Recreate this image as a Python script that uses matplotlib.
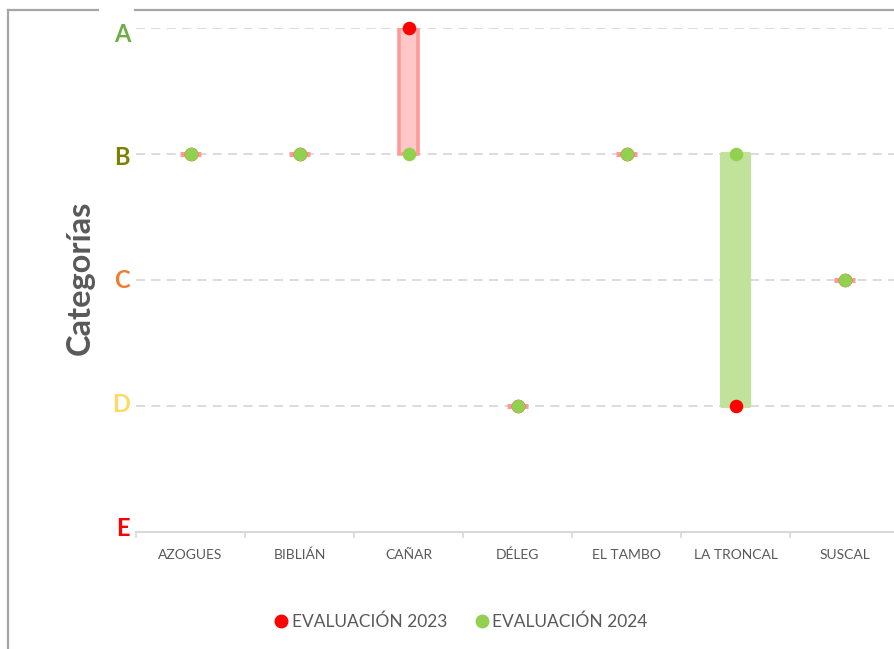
import matplotlib
matplotlib.use("Agg")
import matplotlib.pyplot as plt
from matplotlib.lines import Line2D
import matplotlib.transforms as mtransforms
import numpy as np

plt.rcParams['font.family'] = ['Lato', 'DejaVu Sans']

cantones = ["AZOGUES", "BIBLIÁN", "CAÑAR", "DÉLEG", "EL TAMBO", "LA TRONCAL", "SUSCAL"]
cat_labels = ["E", "D", "C", "B", "A"]
cat_colors = ["#FF0000", "#FFD966", "#ED7D31", "#808000", "#70AD47"]
eval_2023 = ["B", "B", "A", "D", "B", "D", "C"]
eval_2024 = ["B", "B", "B", "D", "B", "B", "C"]

val = {c: i + 1 for i, c in enumerate(cat_labels)}
y23 = np.array([val[c] for c in eval_2023])
y24 = np.array([val[c] for c in eval_2024])
x = np.arange(len(cantones))

W, H = 894, 649
fig = plt.figure(figsize=(W / 100, H / 100), dpi=100)
ax = fig.add_axes([136 / W, 1 - 532 / H, (899 - 136) / W, (532 - 28) / H])

# up/down bars
for xi, a, b in zip(x, y23, y24):
    lo, hi = min(a, b), max(a, b)
    if b > a:
        ax.bar(xi, hi - lo, bottom=lo, width=0.245, color="#C0E29A",
               edgecolor="#C0E29A", linewidth=3, joinstyle="round", zorder=2)
    elif b < a:
        ax.bar(xi, hi - lo, bottom=lo, width=0.17, color="#FFC7C7",
               edgecolor="#FF9A9A", linewidth=2.6, zorder=2)
    else:
        ax.bar(xi, 0, bottom=lo, width=0.19, color="#FFC7C7",
               edgecolor="#FF9A9A", linewidth=3.6, zorder=2)

ax.scatter(x, y23, s=95, color="#FF0000", zorder=3, clip_on=False, linewidths=0)
ax.scatter(x, y24, s=95, color="#92D050", zorder=4, clip_on=False, linewidths=0)

ax.set_xlim(-0.5, len(cantones) - 0.5)
ax.set_ylim(1, 5)

for yv in range(2, 6):
    ax.axhline(yv, color="#D9D9D9", lw=1.3, ls=(0, (5, 3.5)), zorder=1)

# category labels (slightly offset like the original)
ax.set_yticks(range(1, 6))
ax.set_yticklabels([""] * 5)
ax.tick_params(axis="y", length=0)
label_shift_px = [-3, -1, 0, 3.5, 7]  # downward shift of each label (E..A)
for lab, col, sh in zip(cat_labels, cat_colors, label_shift_px):
    tr = ax.get_yaxis_transform() + mtransforms.ScaledTranslation(-6 / 100, -sh / 100, fig.dpi_scale_trans)
    ax.text(0, val[lab], lab, transform=tr, ha="right", va="center",
            fontsize=17, fontweight="bold", color=col, clip_on=False)

ax.set_xticks(x)
ax.set_xticklabels(cantones, fontsize=10, color="#595959")
ax.set_xticks(np.arange(-0.5, len(cantones)), minor=True)
ax.tick_params(axis="x", which="major", length=0, pad=12)
ax.tick_params(axis="x", which="minor", length=4, color="#D9D9D9", width=1.2)

for s in ["top", "right", "left"]:
    ax.spines[s].set_visible(False)
ax.spines["bottom"].set_color("#D9D9D9")
ax.spines["bottom"].set_linewidth(1.5)

fig.text(80 / W, 1 - 278 / H, "Categorías", rotation=90, fontsize=23.5,
         fontweight="bold", color="#595959", ha="center", va="center")

handles = [Line2D([], [], marker="o", ls="", color="#FF0000", markersize=9),
           Line2D([], [], marker="o", ls="", color="#92D050", markersize=9)]
fig.legend(handles, ["EVALUACIÓN 2023", "EVALUACIÓN 2024"], loc="center",
           bbox_to_anchor=(460 / W, 1 - 622 / H), ncol=2, frameon=False,
           fontsize=12.5, labelcolor="#595959", handletextpad=0.1,
           columnspacing=1.5, handlelength=1.0)

# outer chart border (partial)
bc = "#A6A6A6"
fig.add_artist(Line2D([8 / W, 8 / W], [1 - 10 / H, 0], color=bc, lw=1.6, transform=fig.transFigure))
fig.add_artist(Line2D([8 / W, 98 / W], [1 - 10 / H, 1 - 10 / H], color=bc, lw=1.6, transform=fig.transFigure))
fig.add_artist(Line2D([135 / W, 1], [1 - 10 / H, 1 - 10 / H], color=bc, lw=1.6, transform=fig.transFigure))

fig.savefig("out.png", dpi=100)
